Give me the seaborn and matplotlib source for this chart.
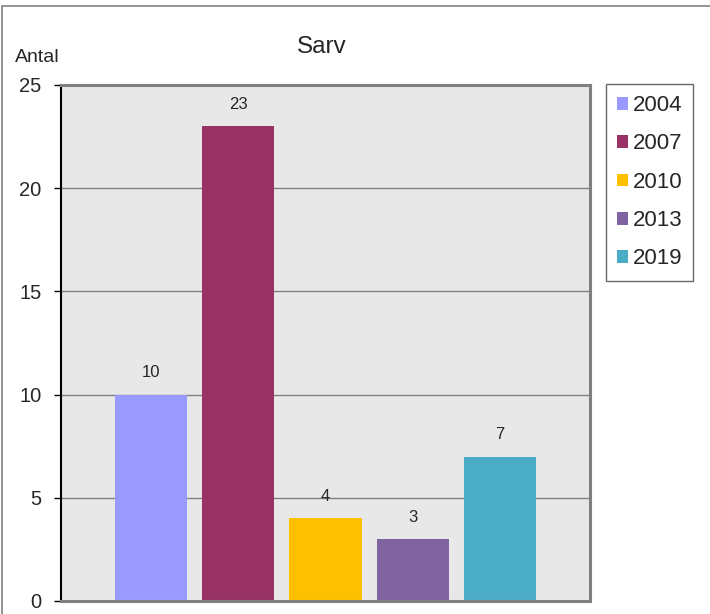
import matplotlib
matplotlib.use("Agg")
import matplotlib.pyplot as plt
from matplotlib.patches import Rectangle
import seaborn as sns
import pandas as pd

# Data
years = ["2004", "2007", "2010", "2013", "2019"]
antal = [10, 23, 4, 3, 7]
colors = ["#9999FF", "#993366", "#FFC000", "#8064A2", "#4BACC6"]

sns.set_style("white")
plt.rcParams["font.family"] = ["Liberation Sans", "DejaVu Sans"]

df = pd.DataFrame({"year": years, "antal": antal})

fig = plt.figure(figsize=(7.1, 6.14), dpi=100)
ax = fig.add_axes([61 / 710, 13 / 614, 529 / 710, 516 / 614])
ax.set_facecolor("#E8E8E8")

sns.barplot(data=df, x="year", y="antal", hue="year", palette=colors,
            width=72 / 87, dodge=False, legend=False, ax=ax, saturation=1,
            linewidth=0, edgecolor="none")

ax.set_xlim(-1.04, 5.04)
ax.set_ylim(0, 25)
ax.set_yticks([0, 5, 10, 15, 20, 25])
ax.set_xticks([])
ax.set_xlabel("")
ax.set_ylabel("")
ax.tick_params(axis="y", labelsize=14.5, length=5, width=1, color="black",
               left=True, direction="out", pad=9)
ax.yaxis.grid(True, color="#808080", linewidth=1)
ax.set_axisbelow(True)

for side in ["top", "right", "bottom"]:
    ax.spines[side].set_color("#808080")
    ax.spines[side].set_linewidth(2.2)
ax.spines["left"].set_color("black")
ax.spines["left"].set_linewidth(1.5)

# value labels
for i, v in enumerate(antal):
    ax.text(i, v + 0.7, str(v), ha="center", va="bottom", fontsize=12)

# titles
fig.text(322 / 710, 1 - 47 / 614, "Sarv", ha="center", va="center", fontsize=17.5)
fig.text(37 / 710, 1 - 58 / 614, "Antal", ha="center", va="center", fontsize=14)

# legend
handles = [Rectangle((0, 0), 1, 1, facecolor=c, edgecolor="none") for c in colors]
leg = fig.legend(handles, years, loc="upper left",
                 bbox_to_anchor=(606 / 710, 1 - 84 / 614),
                 frameon=True, fancybox=False, fontsize=16,
                 handlelength=0.5, handleheight=0.5, handletextpad=0.2,
                 labelspacing=0.78, borderpad=0.5, borderaxespad=0)
leg.get_frame().set_edgecolor("#404040")
leg.get_frame().set_linewidth(1)

# outer chart frame
fig.add_artist(Rectangle((2 / 710, -0.01), 1.0, 1 - 6 / 614 + 0.01,
                         transform=fig.transFigure, fill=False,
                         edgecolor="#808080", linewidth=1.2))

fig.savefig("out.png", dpi=100)
